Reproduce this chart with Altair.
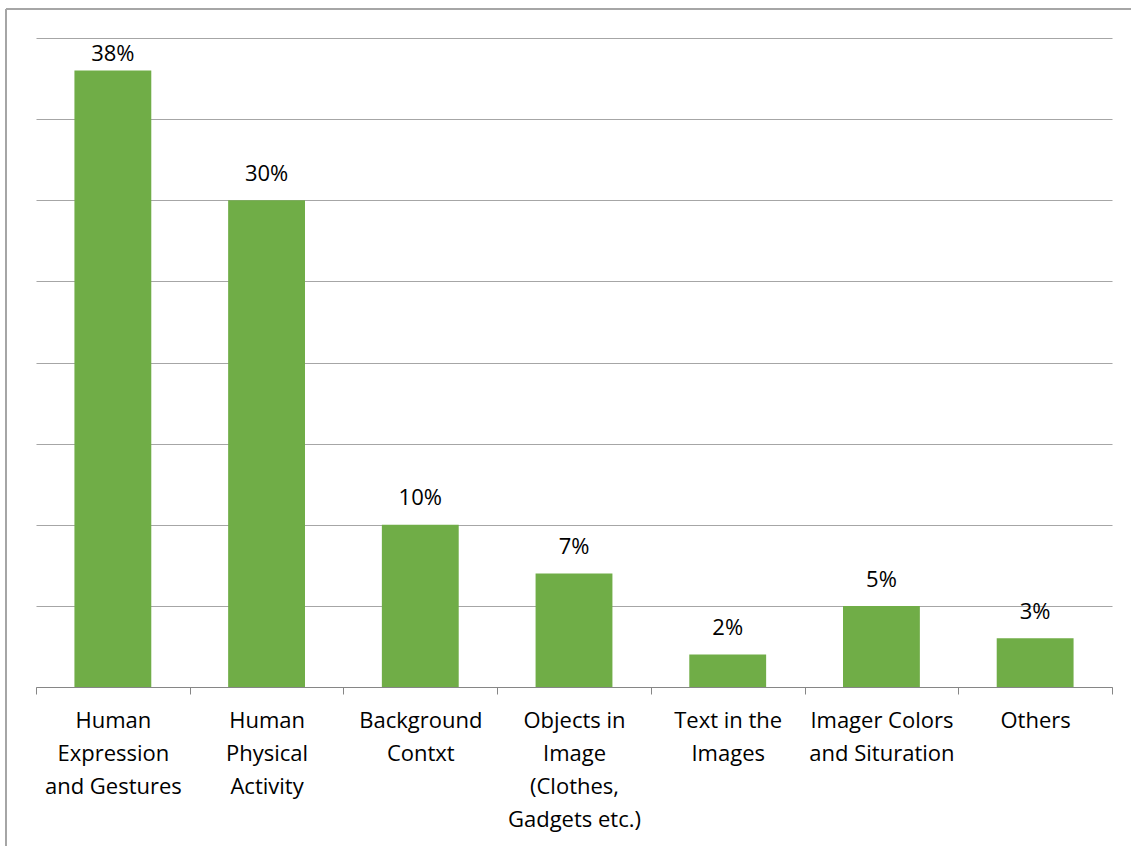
import altair as alt
import pandas as pd

# Share of each cue category (percent)
categories = [
    "Human|Expression|and Gestures",
    "Human|Physical|Activity",
    "Background|Contxt",
    "Objects in|Image|(Clothes,|Gadgets etc.)",
    "Text in the|Images",
    "Imager Colors|and Situration",
    "Others",
]
shares = [38, 30, 10, 7, 2, 5, 3]
value_labels = ["38%", "30%", "10%", "7%", "2%", "5%", "3%"]

df = pd.DataFrame({"category": categories, "share": shares, "label": value_labels})

FONT = "Open Sans"
W, H = 1076, 649
LEFT, TOP = 36, 38
Y_MAX = 40

x_enc = alt.X(
    "category:N",
    sort=categories,
    scale=alt.Scale(paddingInner=0, paddingOuter=0),
    axis=alt.Axis(
        title=None,
        labelAngle=0,
        labelExpr="datum.value ? split(datum.value, '|') : ''",
        labelFont=FONT,
        labelFontSize=22,
        labelLineHeight=33,
        labelColor="#000000",
        labelPadding=16,
        tickBand="extent",
        tickSize=7,
        tickColor="#868686",
        domainColor="#868686",
        labelLimit=0,
    ),
)
y_scale = alt.Scale(domain=[0, Y_MAX], nice=False)
y_enc = alt.Y(
    "share:Q",
    scale=y_scale,
    axis=alt.Axis(
        title=None,
        labels=False,
        ticks=False,
        domain=False,
        values=list(range(0, 45, 5)),
        grid=True,
        gridColor="#a6a6a6",
        gridWidth=1.2,
    ),
)

bars = alt.Chart(df).mark_bar(color="#70AD47", width={"band": 0.5}).encode(x=x_enc, y=y_enc)

# value labels sit above each bar, kept inside the plot area near the top
text = (
    alt.Chart(df)
    .transform_calculate(label_y=f"min(datum.share + 1.62, {Y_MAX} - 1)")
    .mark_text(font=FONT, fontSize=22, color="#000000", baseline="middle")
    .encode(
        x=alt.X("category:N", sort=categories),
        y=alt.Y("label_y:Q", scale=y_scale),
        text="label:N",
    )
)

# outer frame of the chart area (top and left edges)
frame_top = alt.Chart(df).mark_rule(color="#a6a6a6", strokeWidth=1.2).encode(
    x=alt.value(6 - LEFT), x2=alt.value(1131 - LEFT), y=alt.value(9 - TOP)
)
frame_left = alt.Chart(df).mark_rule(color="#a6a6a6", strokeWidth=1.2).encode(
    x=alt.value(6 - LEFT), y=alt.value(9 - TOP), y2=alt.value(846 - TOP)
)

chart = (
    alt.layer(bars, text, frame_top, frame_left)
    .properties(
        width=W,
        height=H,
        autosize=alt.AutoSizeParams(type="none"),
        padding={"left": LEFT, "top": TOP, "right": 1131 - LEFT - W, "bottom": 846 - TOP - H},
        background="#ffffff",
    )
    .configure_view(stroke=None)
)

chart.save("out.html", embed_options={"renderer": "svg", "actions": False})
